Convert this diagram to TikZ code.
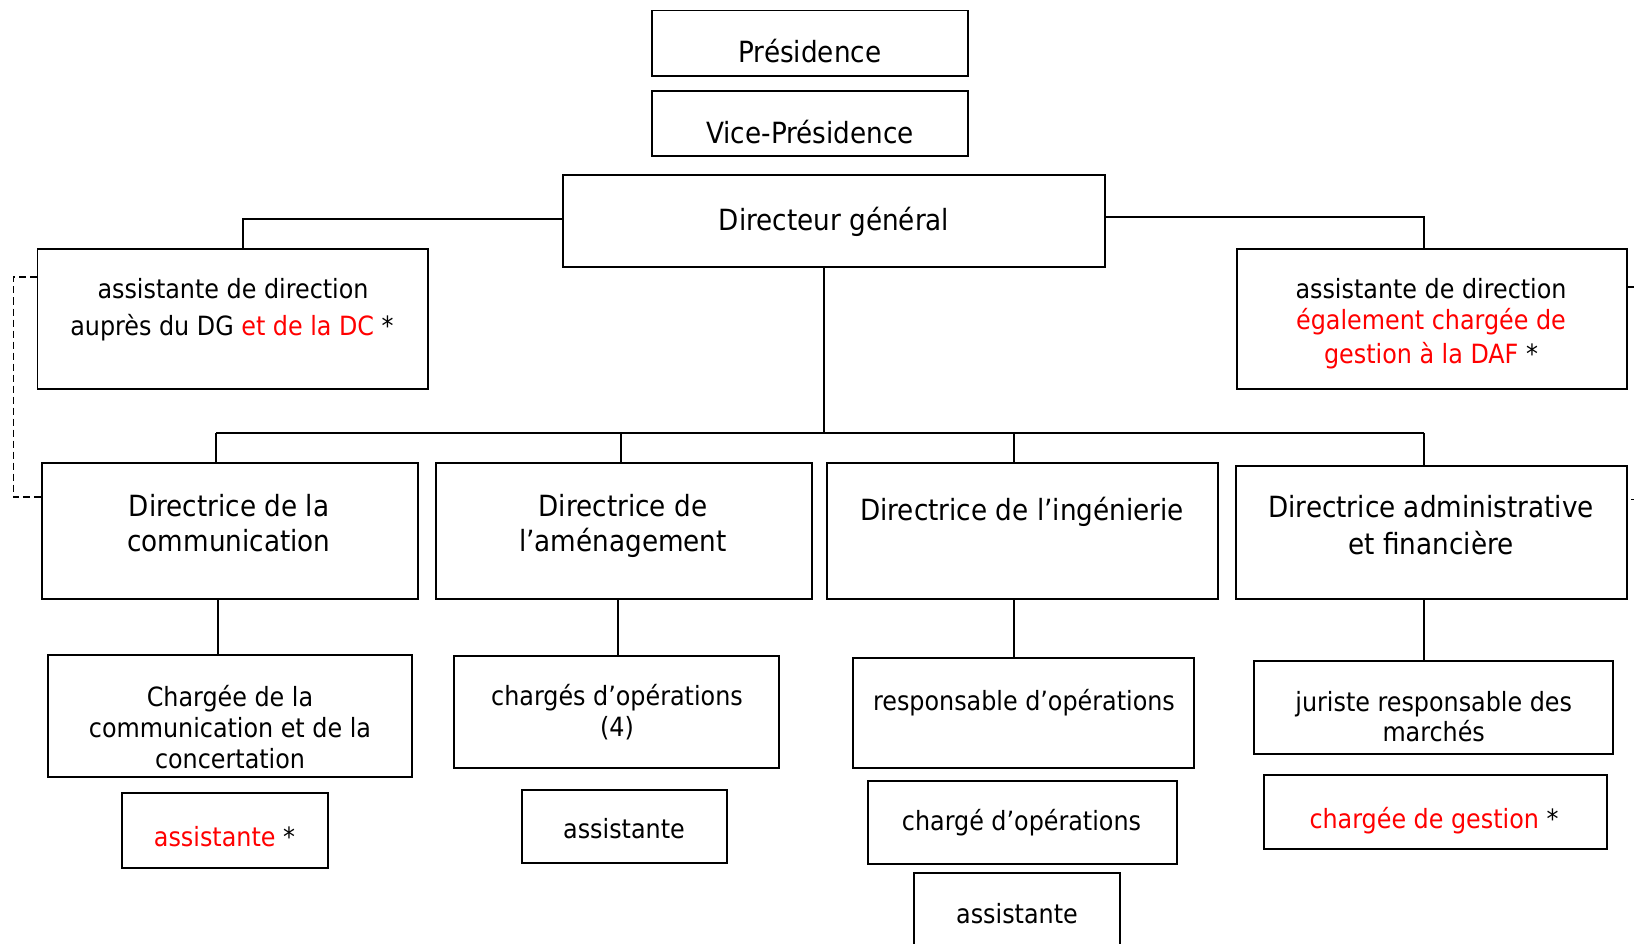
\documentclass[tikz,border=0pt]{standalone}
\usepackage{fontspec}
\setmainfont{DejaVu Sans Condensed}
\newcommand\orgbox[5]{\node[box, minimum width={#4pt-#2pt}, minimum height={#5pt-#3pt}] (#1) at ({(#2+#4)/2},{(#3+#5)/2}) {};}
\tikzset{
  box/.style={draw, line width=1.3pt, inner sep=0pt, fill=none},
  big/.style={font=\fontsize{29.2}{34}\selectfont, anchor=base, inner sep=0pt},
  sm/.style={font=\fontsize{26.5}{30}\selectfont, anchor=base, inner sep=0pt},
  conn/.style={line width=1.8pt},
  dashpat/.style={line width=1.7pt, dash pattern=on 7pt off 4pt}
}
\begin{document}
\begin{tikzpicture}[x=1pt,y=-1pt]
\fill[white] (0,0) rectangle (1634,944);
\useasboundingbox (0,0) rectangle (1634,944);
\clip (0,0) rectangle (1634,944);
% boxes
\orgbox{pres}{652}{10.4}{968}{76}
\orgbox{vp}{652}{91}{968}{156}
\orgbox{dg}{563}{175}{1105}{267}
\orgbox{asl}{37.5}{249}{428}{389}
\orgbox{asr}{1237}{249}{1627}{389}
\orgbox{dc}{42}{463}{418}{599}
\orgbox{da}{436}{463}{812}{599}
\orgbox{di}{827}{463}{1218}{599}
\orgbox{daf}{1236}{466}{1627}{599}
\orgbox{cc}{48}{655}{412}{777}
\orgbox{ra}{122}{793}{328}{868}
\orgbox{co}{454}{656}{779}{768}
\orgbox{aa}{522}{790}{727}{863}
\orgbox{ro}{853}{658}{1194}{768}
\orgbox{cho}{868}{781}{1177}{864}
\orgbox{ai}{914}{873}{1120}{970}
\orgbox{ju}{1254}{661}{1613}{754}
\orgbox{cg}{1264}{775}{1607}{849}
% texts
\node[big] (t1) at (810,62.5) {Présidence};
\node[big] (t2) at (810,144) {Vice-Présidence};
\node[big] (t3) at (834,231) {Directeur général};
\node[sm] (t4) at (233,298.5) {assistante de direction};
\node[sm] (t5) at (232,335) {auprès du DG {\color{red}et de la DC} *};
\node[sm] (t6) at (1431,298.5) {assistante de direction};
\node[sm,red] (t7) at (1431,330) {également chargée de};
\node[sm] (t8) at (1431,363) {{\color{red}gestion à la DAF} *};
\node[big] (t9) at (229,516) {Directrice de la};
\node[big] (t10) at (229,551.5) {communication};
\node[big] (t11) at (623,516) {Directrice de};
\node[big] (t12) at (623,551.5) {l’aménagement};
\node[big] (t13) at (1022,520) {Directrice de l’ingénierie};
\node[big] (t14) at (1431,517) {Directrice administrative};
\node[big] (t15) at (1431,554) {et financière};
\node[sm] (t16) at (230,706) {Chargée de la};
\node[sm] (t17) at (230,737) {communication et de la};
\node[sm] (t18) at (230,768) {concertation};
\node[sm] (t19) at (224.5,846.5) {{\color{red}assistante} *};
\node[sm] (t20) at (617,705) {chargés d’opérations};
\node[sm] (t21) at (617,736) {(4)};
\node[sm] (t22) at (624,838.5) {assistante};
\node[sm] (t23) at (1024,710) {responsable d’opérations};
\node[sm] (t24) at (1021.5,830.5) {chargé d’opérations};
\node[sm] (t25) at (1017,923) {assistante};
\node[sm] (t26) at (1433.7,711) {juriste responsable des};
\node[sm] (t27) at (1433.7,741) {marchés};
\node[sm] (t28) at (1434,828.5) {{\color{red}chargée de gestion} *};
% connectors
\coordinate (busL) at (216,433);
\coordinate (busR) at (1424,433);
\draw[conn] ([yshift=2pt]dg.west) -| ([xshift=10pt]asl.north);
\draw[conn] ([yshift=4pt]dg.east) -| ([xshift=-8pt]asr.north);
\draw[conn] ([xshift=-10pt]dg.south) -- ([xshift=-10pt]dg.south |- busL);
\draw[conn] (busL) -- (busR);
\draw[conn] ([xshift=-14pt]dc.north) -- ([xshift=-14pt]dc.north |- busL);
\draw[conn] ([xshift=-3pt]da.north) -- ([xshift=-3pt]da.north |- busL);
\draw[conn] ([xshift=-8.5pt]di.north) -- ([xshift=-8.5pt]di.north |- busL);
\draw[conn] ([xshift=-7.5pt]daf.north) -- ([xshift=-7.5pt]daf.north |- busL);
\draw[conn] ([xshift=-12pt]dc.south) -- ([xshift=-12pt]dc.south |- cc.north);
\draw[conn] ([xshift=-6pt]da.south) -- ([xshift=-6pt]da.south |- co.north);
\draw[conn] ([xshift=-8.5pt]di.south) -- ([xshift=-8.5pt]di.south |- ro.north);
\draw[conn] ([xshift=-7.5pt]daf.south) -- ([xshift=-7.5pt]daf.south |- ju.north);
\draw[dashpat] ([yshift=42pt]asl.west) -- ++(-23.5,0) |- ([yshift=34pt]dc.west);
\draw[dashpat] ([yshift=32pt]asr.east) -- ++(20,0) |- ([yshift=33pt]daf.east);
\end{tikzpicture}
\end{document}
